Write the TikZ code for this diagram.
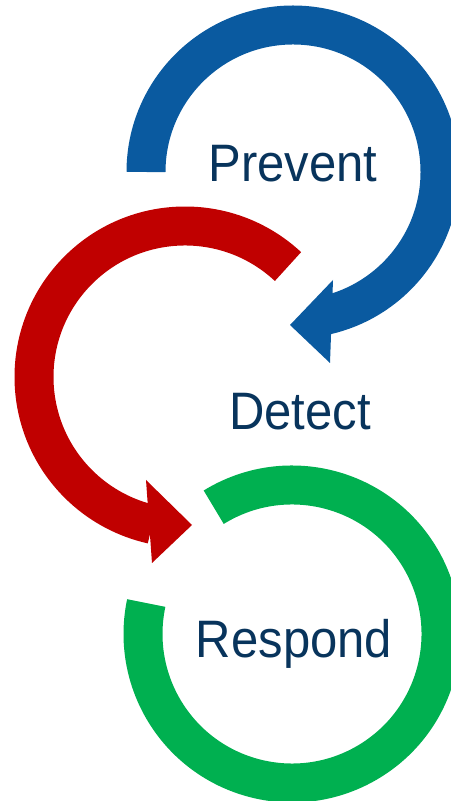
\documentclass[tikz,border=0pt]{standalone}
\usepackage{xcolor}
\usepackage{tikz}
\usepackage{fontspec}
\newfontfamily\cyclefont[FakeStretch=0.93]{Liberation Sans}

\definecolor{preventblue}{RGB}{10,90,160}
\definecolor{detectred}{RGB}{192,0,0}
\definecolor{respondgreen}{RGB}{0,176,80}
\definecolor{labelnavy}{RGB}{8,52,92}

\begin{document}
\begin{tikzpicture}[
    x=0.02cm, y=0.02cm,
    ring/.style={line width=0.78cm},
    stage/.style={font=\cyclefont\fontsize{30}{36}\selectfont, text=labelnavy, anchor=base, inner sep=0pt}
]
    \useasboundingbox (0,0) rectangle (450,801);

    \def\rb{147} % prevent ring
    \def\rr{151} % detect ring
    \def\rg{149} % respond ring

    % anillos
    \draw[ring, preventblue] ([shift={(180:\rb)}]293,629) arc[start angle=180, end angle=-77, radius=\rb];
    \draw[ring, detectred] ([shift={(47:\rr)}]185,424) arc[start angle=47, end angle=257.5, radius=\rr];
    \draw[ring, respondgreen] ([shift={(121.7:\rg)}]292,167) arc[start angle=121.7, end angle=-192, radius=\rg];

    % puntas
    \coordinate (blueup) at (333,521);
    \coordinate (bluetip) at (290,476);
    \coordinate (bluelow) at (330,438);
    \fill[preventblue] (blueup) -- (bluetip) -- (bluelow) -- cycle;
    \coordinate (redup) at (146,321);
    \coordinate (redtip) at (192,276);
    \coordinate (redlow) at (152,238);
    \fill[detectred] (redup) -- (redtip) -- (redlow) -- cycle;

    % etapas
    \node[stage] (prevent) at (293,619) {Prevent};
    \node[stage] (detect) at (300,371) {Detect};
    \node[stage] (respond) at (294,143) {Respond};
\end{tikzpicture}
\end{document}
